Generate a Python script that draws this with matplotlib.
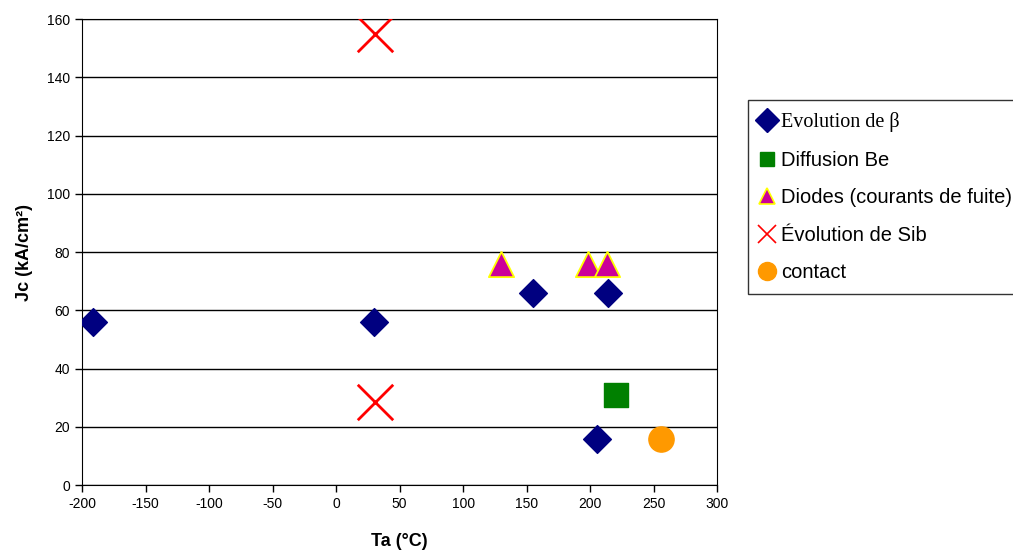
import matplotlib.pyplot as plt
from matplotlib.lines import Line2D

plt.rcParams['font.family'] = ['Liberation Sans', 'DejaVu Sans']
plt.rcParams['axes.unicode_minus'] = False

# Data
beta_x = [-191, 30, 155, 214, 205]
beta_y = [56, 56, 66, 66, 16]
be_x = [220]
be_y = [31]
diodes_x = [130, 198, 213]
diodes_y = [76, 76, 76]
sib_x = [31, 31]
sib_y = [155, 28.5]
contact_x = [256]
contact_y = [16]

fig = plt.figure(figsize=(10.13, 5.5), dpi=100)
ax = fig.add_axes([0.081, 0.118, 0.627, 0.847])

ax.scatter(beta_x, beta_y, marker='D', s=200, color='#000080', zorder=3)
ax.scatter(be_x, be_y, marker='s', s=300, color='#008000', zorder=3)
ax.scatter(diodes_x, diodes_y, marker='^', s=330, color='#cc0099',
           edgecolors='yellow', linewidths=1.3, zorder=3)
ax.scatter(sib_x, sib_y, marker='x', s=650, color='red', linewidths=2, zorder=3)
ax.scatter(contact_x, contact_y, marker='o', s=330, color='#ff9900', zorder=3)

ax.set_xlim(-200, 300)
ax.set_ylim(0, 160)
ax.set_xticks(range(-200, 301, 50))
ax.set_yticks(range(0, 161, 20))
ax.grid(axis='y', color='black', linewidth=1)
ax.set_axisbelow(True)
ax.tick_params(direction='out', length=5, labelsize=10, width=1)
for sp in ax.spines.values():
    sp.set_color('black')
ax.set_xlabel('Ta (°C)', fontsize=13, fontweight='bold', labelpad=16)
ax.set_ylabel('Jc (kA/cm²)', fontsize=13, fontweight='bold', labelpad=10)

handles = [
    Line2D([], [], ls='none', marker='D', ms=12, color='#000080'),
    Line2D([], [], ls='none', marker='s', ms=10, color='#008000'),
    Line2D([], [], ls='none', marker='^', ms=11, color='#cc0099',
           markeredgecolor='yellow', markeredgewidth=1.2),
    Line2D([], [], ls='none', marker='x', ms=13, color='red', markeredgewidth=1.2),
    Line2D([], [], ls='none', marker='o', ms=13, color='#ff9900'),
]
labels = ['Evolution de β', 'Diffusion Be', 'Diodes (courants de fuite)',
          'Évolution de Sib', 'contact']
leg = fig.legend(handles, labels, loc='upper left', bbox_to_anchor=(0.738, 0.818),
                 frameon=True, fancybox=False, edgecolor='black', fontsize=14.5,
                 handlelength=0.75, handletextpad=0.3, labelspacing=0.92,
                 borderpad=0.6, borderaxespad=0)
leg.get_frame().set_linewidth(1)
leg.get_texts()[0].set_fontfamily(['Liberation Serif', 'DejaVu Serif'])

fig.savefig('out.png', dpi=100)
